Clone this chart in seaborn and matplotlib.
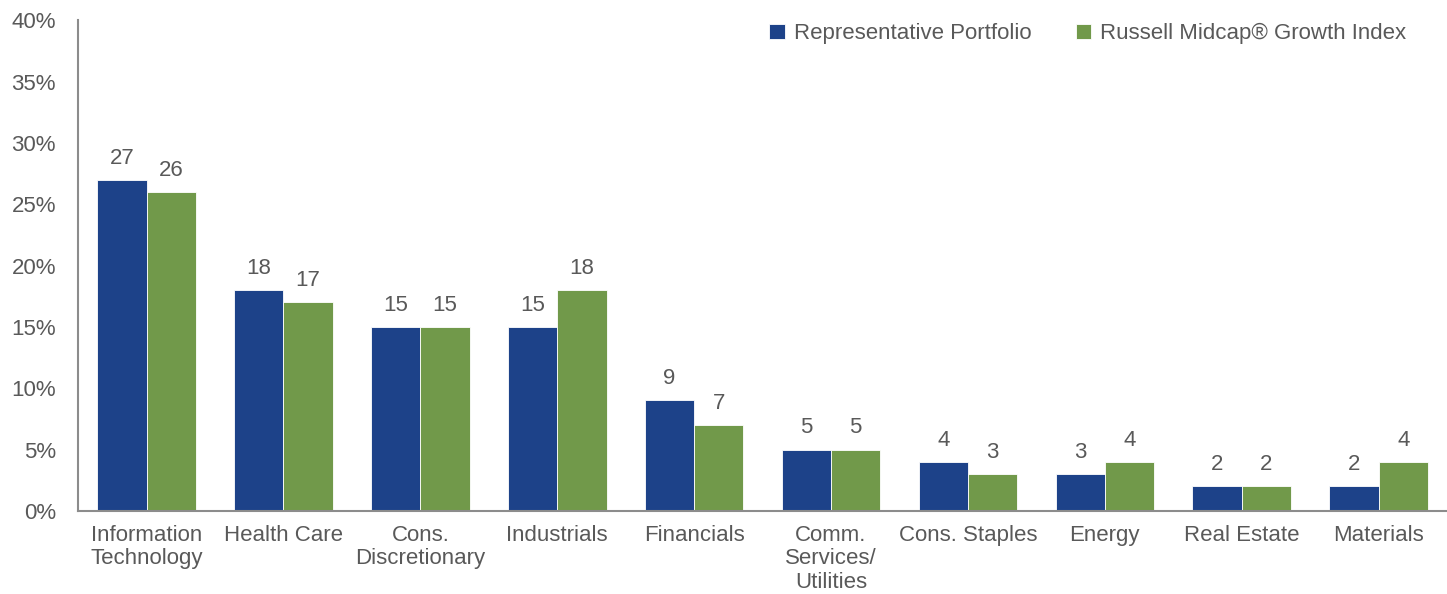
import pandas as pd
import numpy as np

import seaborn as sns
import matplotlib.pyplot as plt
from matplotlib.ticker import FuncFormatter

# data
sectors = ["Information\nTechnology", "Health Care", "Cons.\nDiscretionary", "Industrials",
           "Financials", "Comm.\nServices/\nUtilities", "Cons. Staples", "Energy",
           "Real Estate", "Materials"]
portfolio = [27, 18, 15, 15, 9, 5, 4, 3, 2, 2]
index_wts = [26, 17, 15, 18, 7, 5, 3, 4, 2, 4]
series_names = ["Representative Portfolio", "Russell Midcap® Growth Index"]

data = pd.DataFrame({
    "sector": sectors * 2,
    "weight": portfolio + index_wts,
    "series": [series_names[0]] * len(sectors) + [series_names[1]] * len(sectors),
})

sns.set_style("white")
plt.rcParams['font.family'] = ['Liberation Sans', 'DejaVu Sans']
txt = "#595959"

fig = plt.figure(figsize=(14.47, 5.94), dpi=100)
ax = fig.add_axes([0.054, 0.14, 0.946, 0.826])

sns.barplot(data=data, x="sector", y="weight", hue="series",
            palette=["#1D4289", "#71994A"], width=0.72, saturation=1,
            edgecolor="white", linewidth=0.6, ax=ax)

for c in ax.containers:
    ax.bar_label(c, fmt="%d", padding=8, fontsize=16, color=txt)

ax.set_ylim(0, 40)
ax.set_yticks(np.arange(0, 41, 5))
ax.yaxis.set_major_formatter(FuncFormatter(lambda v, p: f"{v:.0f}%"))
ax.set_xlim(-0.5, len(sectors) - 0.5)
ax.set_xlabel("")
ax.set_ylabel("")
ax.tick_params(axis="both", labelsize=16, colors=txt, length=0)
ax.tick_params(axis="x", pad=10)
ax.tick_params(axis="y", pad=16)
for lbl in ax.get_xticklabels():
    lbl.set_linespacing(1.17)

for s in ["top", "right"]:
    ax.spines[s].set_visible(False)
for s in ["left", "bottom"]:
    ax.spines[s].set_color("#8c8c8c")
    ax.spines[s].set_linewidth(1.5)

ax.legend(loc="upper right", bbox_to_anchor=(0.985, 1.035), ncol=2, frameon=False,
          fontsize=16, labelcolor=txt, handlelength=0.7, handleheight=0.7,
          handletextpad=0.4, columnspacing=2.0)

plt.savefig("out.png", dpi=100)
